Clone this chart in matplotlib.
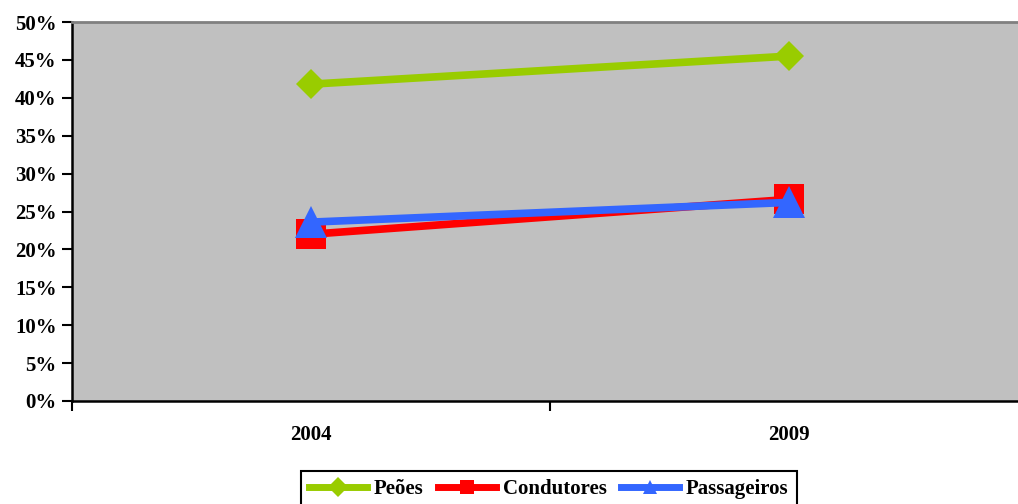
import matplotlib.pyplot as plt
from matplotlib.lines import Line2D

anos = ['2004', '2009']
series = ['Peões', 'Condutores', 'Passageiros']
peoes = [41.8, 45.5]
condutores = [22.0, 26.6]
passageiros = [23.6, 26.2]

cores = {'Peões': '#99CC00', 'Condutores': '#FF0000', 'Passageiros': '#3366FF'}
marcadores = {'Peões': ('D', 15.5), 'Condutores': ('s', 22), 'Passageiros': ('^', 23)}
valores = {'Peões': peoes, 'Condutores': condutores, 'Passageiros': passageiros}

plt.rcParams['font.family'] = ['Liberation Serif', 'DejaVu Serif']
plt.rcParams['font.weight'] = 'bold'

fig = plt.figure(figsize=(10.18, 5.04), dpi=100)
# the plot area runs a little past the right edge of the figure
ax = fig.add_axes([72 / 1018, 103 / 504, 956 / 1018, 379 / 504])
ax.set_facecolor('#C0C0C0')

x = list(range(len(anos)))
for nome in series:
    m, ms = marcadores[nome]
    ax.plot(x, valores[nome], color=cores[nome], lw=5.5, marker=m, markersize=ms,
            markeredgewidth=0, solid_capstyle='butt', zorder=3)

ax.set_xlim(-0.5, 1.5)
ax.set_ylim(0, 50)
ax.set_yticks(range(0, 51, 5))
ax.set_yticklabels([f'{v}%' for v in range(0, 51, 5)], fontsize=15, fontweight='bold')
ax.set_xticks(x)
ax.set_xticklabels(anos, fontsize=15, fontweight='bold')
ax.tick_params(axis='x', which='major', length=0, pad=17)
ax.set_xticks([-0.5, 0.5, 1.5], minor=True)
ax.tick_params(axis='x', which='minor', length=7, width=1.5, direction='out')
ax.tick_params(axis='y', length=7, width=1.5, direction='out', pad=4)

for lado in ['left', 'bottom']:
    ax.spines[lado].set_linewidth(1.8)
    ax.spines[lado].set_color('black')
ax.spines['top'].set_color('#808080')
ax.spines['top'].set_linewidth(2)
ax.spines['right'].set_visible(False)

handles = [Line2D([], [], color=cores[n], lw=5, marker=marcadores[n][0],
                  markersize=10, markeredgewidth=0) for n in series]
leg = fig.legend(handles, series, loc='upper center', bbox_to_anchor=(0.539, 1 - 471 / 504),
                 ncol=3, frameon=True, fancybox=False, edgecolor='black', framealpha=1,
                 prop={'size': 15, 'weight': 'bold'}, handlelength=2.8, handletextpad=0.3,
                 columnspacing=0.7, borderpad=0.4, borderaxespad=0)
leg.get_frame().set_linewidth(1.5)

fig.savefig('out.png', dpi=100)
